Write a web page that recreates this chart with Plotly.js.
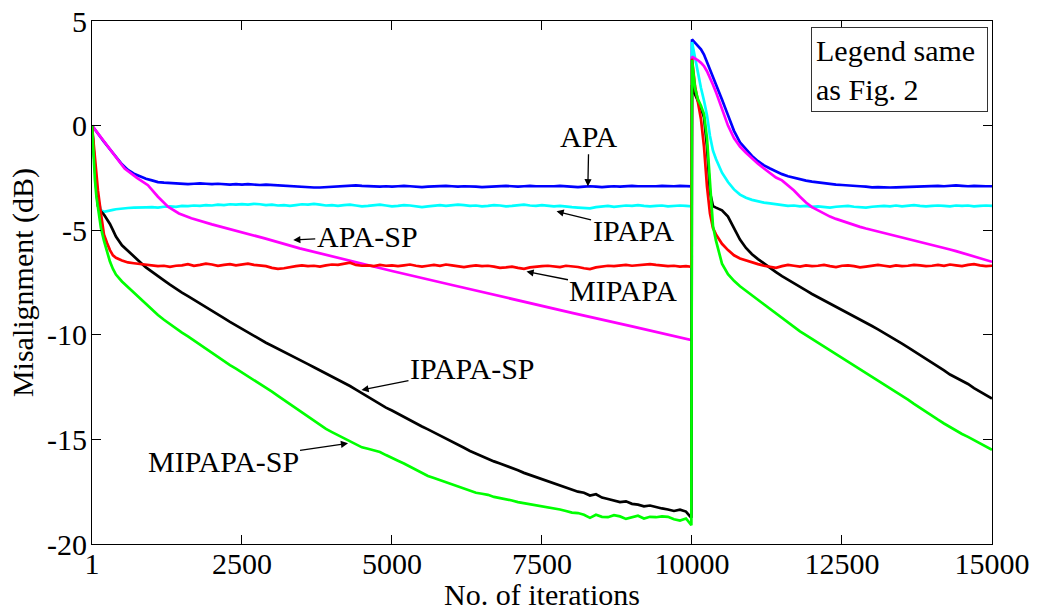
<!DOCTYPE html>
<html>
<head>
<meta charset="utf-8">
<script src="https://cdn.plot.ly/plotly-3.0.1.min.js"></script>
<style>
html,body{margin:0;padding:0;background:#fff;}
#chart{width:1038px;height:611px;}
</style>
</head>
<body>
<div id="chart"></div>
<script>
// ---- iteration grids ----
const itersA = [1,25,50,75,100,150,200,250,300,350,400,500,600,700,800,900,
1000,1100,1200,1300,1400,1500,1600,1700,1800,1900,
2000,2100,2200,2300,2400,2500,2600,2700,2800,2900,
3000,3100,3200,3300,3400,3500,3600,3700,3800,3900,
4000,4100,4200,4300,4400,4500,4600,4700,4800,4900,
5000,5100,5200,5300,5400,5500,5600,5700,5800,5900,
6000,6100,6200,6300,6400,6500,6600,6700,6800,6900,
7000,7100,7200,7300,7400,7500,7600,7700,7800,7900,
8000,8100,8200,8300,8400,8500,8600,8700,8800,8900,
9000,9100,9200,9300,9400,9500,9600,9700,9800,9900,9990];
const itersB = [10000,10050,10100,10150,10200,10250,10300,10350,10400,10450,10500,
10600,10700,10800,10900,11000,
11100,11200,11300,11400,11500,11600,11700,11800,11900,12000,
12100,12200,12300,12400,12500,12600,12700,12800,12900,13000,
13100,13200,13300,13400,13500,13600,13700,13800,13900,14000,
14100,14200,14300,14400,14500,14600,14700,14800,14900,15000];

// ---- APA (blue) ----
const apaA = [0,-0.1,-0.2,-0.3,-0.4,-0.58,-0.77,-0.95,-1.14,-1.32,-1.5,-1.85,-2.12,-2.3,-2.42,-2.54,
-2.62,-2.7,-2.73,-2.75,-2.77,-2.78,-2.8,-2.78,-2.76,-2.78,
-2.8,-2.78,-2.8,-2.82,-2.8,-2.82,-2.8,-2.82,-2.84,-2.82,
-2.84,-2.86,-2.88,-2.9,-2.9,-2.92,-2.94,-2.96,-2.96,-2.94,
-2.92,-2.9,-2.9,-2.88,-2.86,-2.88,-2.9,-2.9,-2.92,-2.9,
-2.92,-2.9,-2.88,-2.9,-2.92,-2.94,-2.92,-2.9,-2.9,-2.88,
-2.9,-2.92,-2.9,-2.9,-2.92,-2.94,-2.92,-2.9,-2.9,-2.88,
-2.9,-2.92,-2.9,-2.88,-2.9,-2.9,-2.92,-2.9,-2.88,-2.9,
-2.92,-2.94,-2.92,-2.9,-2.92,-2.94,-2.92,-2.9,-2.92,-2.9,
-2.88,-2.9,-2.9,-2.92,-2.9,-2.88,-2.9,-2.9,-2.88,-2.9,-2.9];
const apaB = [4.12,3.95,3.8,3.65,3.4,3.05,2.7,2.35,2.02,1.65,1.25,
0.5,-0.25,-0.8,-1.15,-1.45,
-1.7,-1.9,-2.05,-2.2,-2.32,-2.42,-2.5,-2.57,-2.63,-2.68,
-2.72,-2.76,-2.8,-2.82,-2.84,-2.85,-2.87,-2.9,-2.92,-2.95,
-2.94,-2.96,-2.96,-2.95,-2.94,-2.92,-2.92,-2.9,-2.9,-2.9,
-2.88,-2.9,-2.88,-2.86,-2.88,-2.9,-2.88,-2.9,-2.9,-2.9];

// ---- IPAPA (cyan) ----
const ipapaA = [0,-1.1,-2.1,-2.9,-3.5,-4.05,-4.12,-4.1,-4.06,-4.03,-4.0,-3.96,-3.94,-3.92,-3.9,-3.91,
-3.9,-3.92,-3.88,-3.86,-3.88,-3.84,-3.85,-3.82,-3.84,-3.8,
-3.82,-3.78,-3.8,-3.76,-3.78,-3.75,-3.78,-3.74,-3.76,-3.8,
-3.78,-3.82,-3.8,-3.84,-3.8,-3.76,-3.78,-3.74,-3.78,-3.82,
-3.8,-3.84,-3.8,-3.78,-3.82,-3.86,-3.84,-3.8,-3.78,-3.82,
-3.86,-3.84,-3.8,-3.82,-3.86,-3.9,-3.86,-3.82,-3.8,-3.84,
-3.82,-3.78,-3.8,-3.84,-3.82,-3.86,-3.84,-3.8,-3.82,-3.86,
-3.84,-3.8,-3.78,-3.82,-3.84,-3.8,-3.82,-3.86,-3.84,-3.88,
-3.9,-3.92,-3.94,-3.96,-3.9,-3.86,-3.84,-3.88,-3.86,-3.82,
-3.84,-3.8,-3.84,-3.86,-3.84,-3.82,-3.86,-3.84,-3.82,-3.84,-3.86];
const ipapaB = [4.0,3.2,2.5,1.8,1.2,0.5,-0.5,-1.2,-1.6,-1.9,-2.25,
-2.7,-3.05,-3.3,-3.45,-3.55,
-3.62,-3.68,-3.72,-3.76,-3.8,-3.84,-3.82,-3.86,-3.84,-3.88,
-3.86,-3.9,-3.92,-3.88,-3.86,-3.84,-3.88,-3.9,-3.92,-3.88,
-3.86,-3.84,-3.86,-3.82,-3.86,-3.84,-3.8,-3.84,-3.86,-3.84,
-3.82,-3.84,-3.86,-3.82,-3.84,-3.82,-3.86,-3.84,-3.82,-3.84];

// ---- MIPAPA (red) ----
const mipapaA = [0,-0.8,-1.6,-2.4,-3.1,-4.2,-5.2,-5.6,-5.95,-6.2,-6.32,-6.45,-6.54,-6.58,-6.62,-6.64,
-6.68,-6.72,-6.7,-6.75,-6.7,-6.68,-6.62,-6.7,-6.66,-6.6,
-6.64,-6.7,-6.66,-6.62,-6.68,-6.64,-6.6,-6.66,-6.7,-6.72,
-6.8,-6.85,-6.82,-6.76,-6.72,-6.68,-6.72,-6.7,-6.74,-6.68,
-6.64,-6.66,-6.6,-6.55,-6.66,-6.7,-6.68,-6.72,-6.66,-6.7,
-6.68,-6.72,-6.68,-6.64,-6.7,-6.74,-6.7,-6.66,-6.7,-6.64,
-6.68,-6.72,-6.76,-6.72,-6.68,-6.72,-6.7,-6.74,-6.8,-6.78,
-6.74,-6.8,-6.85,-6.78,-6.74,-6.72,-6.7,-6.74,-6.76,-6.7,
-6.72,-6.76,-6.82,-6.86,-6.78,-6.74,-6.7,-6.72,-6.7,-6.66,
-6.7,-6.68,-6.64,-6.62,-6.66,-6.7,-6.72,-6.7,-6.74,-6.72,-6.75];
const mipapaB = [3.2,1.9,1.1,0.3,-1.0,-2.9,-4.2,-4.9,-5.2,-5.45,-5.65,
-5.95,-6.2,-6.35,-6.45,-6.55,
-6.62,-6.7,-6.76,-6.8,-6.72,-6.66,-6.7,-6.74,-6.68,-6.72,
-6.7,-6.66,-6.72,-6.76,-6.7,-6.68,-6.72,-6.78,-6.74,-6.7,
-6.66,-6.7,-6.74,-6.68,-6.72,-6.7,-6.66,-6.68,-6.72,-6.7,
-6.66,-6.7,-6.64,-6.68,-6.72,-6.66,-6.62,-6.68,-6.72,-6.7];

// ---- APA-SP (magenta) ----
const apaspItersA = [1,250,500,545,750,933,1100,1267,1450,1657,2000,2500,2880,3463,4296,5000,6000,7000,8000,9000,9990];
const apaspA = [0,-0.95,-1.9,-2.05,-2.5,-2.85,-3.4,-3.88,-4.2,-4.43,-4.72,-5.08,-5.39,-5.87,-6.47,-6.95,-7.62,-8.3,-8.95,-9.6,-10.25];
const apaspB = [3.29,3.22,3.12,3.0,2.85,2.6,2.3,1.95,1.6,1.2,0.8,
0.0,-0.6,-1.0,-1.3,-1.58,
-1.82,-2.05,-2.28,-2.48,-2.62,-2.85,-3.1,-3.4,-3.68,-3.9,
-4.05,-4.2,-4.35,-4.46,-4.56,-4.66,-4.75,-4.84,-4.92,-4.99,
-5.06,-5.13,-5.2,-5.27,-5.34,-5.4,-5.47,-5.54,-5.61,-5.68,
-5.76,-5.84,-5.92,-6.0,-6.08,-6.17,-6.26,-6.34,-6.42,-6.51];

// ---- IPAPA-SP (black) ----
const ipapaspA = [0,-1.1,-2.2,-3.1,-3.85,-4.1,-4.25,-4.45,-4.7,-5.0,-5.3,-5.72,-6.0,-6.25,-6.52,-6.78,
-7.0,-7.22,-7.4,-7.6,-7.8,-7.98,-8.15,-8.32,-8.48,-8.66,
-8.82,-9.0,-9.2,-9.38,-9.55,-9.72,-9.9,-10.08,-10.25,-10.38,
-10.52,-10.66,-10.82,-10.98,-11.12,-11.25,-11.4,-11.55,-11.7,-11.84,
-11.98,-12.12,-12.28,-12.45,-12.62,-12.8,-12.98,-13.16,-13.34,-13.48,
-13.62,-13.78,-13.92,-14.06,-14.22,-14.38,-14.52,-14.66,-14.8,-14.95,
-15.1,-15.25,-15.4,-15.55,-15.68,-15.8,-15.92,-16.05,-16.15,-16.25,
-16.38,-16.48,-16.6,-16.7,-16.8,-16.9,-17.0,-17.08,-17.18,-17.3,
-17.4,-17.5,-17.55,-17.68,-17.62,-17.78,-17.85,-17.92,-18.0,-17.96,
-18.08,-18.12,-18.2,-18.16,-18.24,-18.3,-18.35,-18.42,-18.36,-18.45,-18.75];
const ipapaspB = [1.94,1.5,1.15,0.85,0.4,-1.0,-3.2,-3.85,-3.92,-3.98,-4.05,
-4.35,-4.9,-5.45,-5.85,-6.15,
-6.38,-6.6,-6.8,-7.0,-7.2,-7.38,-7.55,-7.72,-7.88,-8.05,
-8.2,-8.36,-8.52,-8.66,-8.8,-8.95,-9.1,-9.25,-9.42,-9.58,
-9.74,-9.9,-10.08,-10.25,-10.42,-10.6,-10.78,-10.95,-11.12,-11.3,
-11.5,-11.7,-11.9,-12.05,-12.2,-12.35,-12.55,-12.72,-12.9,-13.05];

// ---- MIPAPA-SP (green) ----
const mipapaspA = [0,-1.4,-2.6,-3.4,-4.0,-4.9,-5.5,-6.05,-6.5,-6.85,-7.12,-7.45,-7.72,-8.0,-8.25,-8.55,
-8.8,-9.05,-9.28,-9.5,-9.7,-9.9,-10.08,-10.28,-10.48,-10.68,
-10.88,-11.08,-11.28,-11.45,-11.62,-11.8,-11.98,-12.15,-12.32,-12.52,
-12.72,-12.92,-13.12,-13.32,-13.52,-13.72,-13.92,-14.12,-14.3,-14.5,
-14.65,-14.8,-14.95,-15.1,-15.25,-15.38,-15.45,-15.52,-15.6,-15.75,
-15.9,-16.02,-16.15,-16.3,-16.45,-16.6,-16.75,-16.85,-16.95,-17.05,
-17.15,-17.25,-17.35,-17.45,-17.55,-17.6,-17.65,-17.75,-17.8,-17.85,
-17.92,-18.0,-18.05,-18.1,-18.12,-18.18,-18.22,-18.28,-18.35,-18.42,
-18.5,-18.52,-18.6,-18.75,-18.6,-18.7,-18.72,-18.62,-18.68,-18.8,
-18.72,-18.65,-18.78,-18.7,-18.72,-18.68,-18.7,-18.82,-18.88,-18.78,-19.1];
const mipapaspB = [3.14,1.8,1.25,0.95,0.55,-0.6,-2.8,-4.8,-5.5,-6.0,-6.6,
-7.1,-7.42,-7.68,-7.9,-8.1,
-8.32,-8.55,-8.78,-9.0,-9.22,-9.44,-9.64,-9.84,-10.02,-10.2,
-10.38,-10.56,-10.74,-10.92,-11.1,-11.28,-11.46,-11.64,-11.82,-12.0,
-12.18,-12.36,-12.55,-12.74,-12.92,-13.1,-13.3,-13.5,-13.7,-13.88,
-14.06,-14.24,-14.42,-14.58,-14.74,-14.88,-15.04,-15.2,-15.35,-15.5];

const xTickVals = [1,2500,5000,7500,10000,12500,15000];
const xTickText = ['1','2500','5000','7500','10000','12500','15000'];
const yTickVals = [-20,-15,-10,-5,0,5];
const yTickText = ['-20','-15','-10','-5','0','5'];

const FONT = 'Liberation Serif, Times New Roman, serif';
const LW = 2.7;

function tr(name, x, y, color){
  return {type:'scatter', mode:'lines', name:name, x:x, y:y,
    line:{color:color, width:LW}, hoverinfo:'skip', showlegend:false};
}

const data = [
  tr('APA', itersA.concat(itersB), apaA.concat(apaB), '#0000ff'),
  tr('IPAPA', itersA.concat(itersB), ipapaA.concat(ipapaB), '#00ffff'),
  tr('APA-SP', apaspItersA.concat(itersB), apaspA.concat(apaspB), '#ff00ff'),
  tr('IPAPA-SP', itersA.concat(itersB), ipapaspA.concat(ipapaspB), '#000000'),
  tr('MIPAPA', itersA.concat(itersB), mipapaA.concat(mipapaB), '#ff0000'),
  tr('MIPAPA-SP', itersA.concat(itersB), mipapaspA.concat(mipapaspB), '#00ff00')
];

function arrowAnn(text, x, y, ax, ay){
  return {text:text, x:x, y:y, xref:'x', yref:'y', ax:ax, ay:ay,
    showarrow:true, arrowhead:2, arrowsize:1.1, arrowwidth:1.3, arrowcolor:'#000',
    font:{family:FONT, size:30, color:'#000'}};
}

const layout = {
  width:1038, height:611,
  margin:{l:92, r:46, t:21, b:67},
  paper_bgcolor:'#fff', plot_bgcolor:'#fff',
  font:{family:FONT, size:30, color:'#000'},
  xaxis:{range:[1,15000], tickvals:xTickVals, ticktext:xTickText,
    showgrid:false, zeroline:false, showline:true, linecolor:'#000', linewidth:1,
    mirror:'ticks', ticks:'inside', ticklen:9, tickcolor:'#000', tickwidth:1,
    ticklabelstandoff:-7,
    tickfont:{family:FONT, size:30, color:'#000'},
    title:{text:'No. of iterations', font:{family:FONT, size:30, color:'#000'}, standoff:0},
    automargin:false},
  yaxis:{range:[-20,5], tickvals:yTickVals, ticktext:yTickText,
    showgrid:false, zeroline:false, showline:true, linecolor:'#000', linewidth:1,
    mirror:'ticks', ticks:'inside', ticklen:9, tickcolor:'#000', tickwidth:1,
    ticklabelstandoff:-2,
    tickfont:{family:FONT, size:30, color:'#000'},
    title:{text:'Misalignment (dB)', font:{family:FONT, size:30, color:'#000'}, standoff:4},
    automargin:false},
  annotations:[
    arrowAnn('APA', 8265, -2.9, 1, -50),
    arrowAnn('IPAPA', 7743, -4.1, 77, 19),
    arrowAnn('MIPAPA', 7242, -6.98, 97, 19),
    arrowAnn('APA-SP', 3355, -5.47, 74, -4),
    arrowAnn('IPAPA-SP', 4492, -12.64, 111, -22),
    arrowAnn('MIPAPA-SP', 4268, -15.19, -125, 18),
    {text:'Legend same<br>as Fig. 2', xref:'paper', yref:'paper', x:0.799, y:0.9885,
     xanchor:'left', yanchor:'top', showarrow:false, align:'left', valign:'middle',
     width:167, height:75, borderpad:4, bordercolor:'#333', borderwidth:1, bgcolor:'#fff',
     font:{family:FONT, size:30, color:'#000'}}
  ]
};

Plotly.newPlot('chart', data, layout, {staticPlot:true, displayModeBar:false});
</script>
</body>
</html>
